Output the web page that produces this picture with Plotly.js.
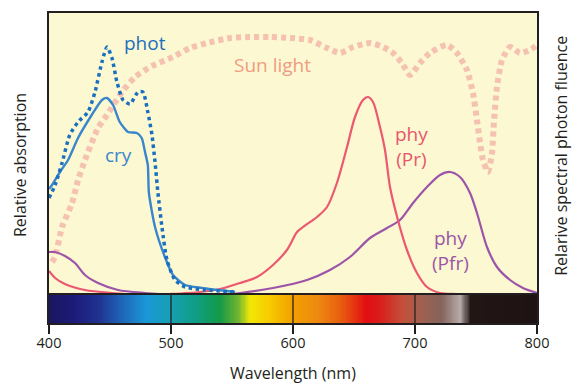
<!DOCTYPE html>
<html>
<head>
<meta charset="utf-8">
<script src="https://cdn.plot.ly/plotly-3.0.1.min.js"></script>
<style>html,body{margin:0;padding:0;background:#fff;}#chart{width:573px;height:383px;}</style>
</head>
<body>
<div id="chart"></div>
<script>
// Wavelength (nm) and relative values (arbitrary units, 0 = baseline)
const photNm  = [400,405,410.7,417,423.8,432,437.7,443.4,447.5,451.6,455.7,460.7,466.4,473,477,481,484.4,486.9,489.3,492.6,496.7,503.3,511.5,527.9,554];
const photVal = [97,110,132,160,173,183,203,233,248,237,213,195,191,203,203,183,160,133,102,68,35,15,8,5,3];

const cryNm  = [400,402.5,409,415.6,423.8,435,443.4,447.5,452.5,458,464.8,472,476,478.7,481,481.9,486.9,495,501.6,511.5,525.4,552.5];
const cryVal = [106,110,123,135,157,180,195,197,190,173,163,162,157,143,130,102,68,38,20,10,7,3];

const sunNm  = [402.5,404.9,410.7,418.9,423.8,429.5,440.2,447.5,459.8,470.5,484.4,501.6,515.6,529.5,548.4,564.8,581.1,597.5,613.9,627.9,638.5,649.2,663.1,673.8,682,689.3,695.9,704.1,712.3,726.2,734.4,742.6,747.5,750.8,753.3,755.7,759.8,763.1,764.8,767.2,771.3,777.9,786,794.3,800];
const sunVal = [33,38,68,92,115,135,167,180,203,218,229,238,247,252,257,258,258,257,255,247,242,248,252,248,242,232,220,232,242,250,242,225,202,175,152,135,123,142,175,208,235,248,242,245,250];

const prNm  = [400,405,413,429.5,451.6,478.7,499,523.8,540.2,556.6,570.5,583.6,595,603.3,608.2,619.7,627.9,636,644.3,650.8,657.4,661.5,665.6,671.3,675.4,679.5,686,693.4,701.6,709.8,720.5,734.4,760];
const prVal = [24,17,11,5,2,0,1,3,6,12,18,30,45,63,68,78,88,112,148,178,195,198,193,168,145,108,75,45,22,8,2,1,0];

const pfrNm  = [400,405,413.1,421.3,429.5,440.2,456.6,478.7,507.4,540,556.6,583.6,611.5,630.3,646.7,663.1,677,687.7,698.4,709.8,720.5,728.7,736.9,745.1,750.8,759,767.2,777.9,788.5,800];
const pfrVal = [43,43,39,32,20,12,5,2,0,0,2,7,15,25,38,57,67,75,92,108,120,123,118,102,82,48,28,15,7,2];

const tickVals = [400,500,600,700,800];

// visible-spectrum colour bar stops
const spectrumNm = [400,420,440,460,480,500,520,540,555,565,580,600,620,640,660,670,690,705,722,737,746,800];
const spectrumColors = ['#1b1660','#1c1a78','#20308f','#1f66b8','#1a98d8','#16a0b2','#0f9e86','#139a48','#70b430','#f2e806','#f8cc00','#f2a000','#ee8a10','#e85c10','#e20f12','#da1a18','#c4503a','#a06050','#84645c','#b5aaa7','#221515','#1e1212'];

const barNm = [];
for (let w = spectrumNm[0]; w <= spectrumNm[spectrumNm.length-1]; w += 1) barNm.push(w);
const lo = spectrumNm[0], hi = spectrumNm[spectrumNm.length-1];
const colorscale = spectrumNm.map((w,i)=>[(w-lo)/(hi-lo), spectrumColors[i]]);

const FONT = 'Open Sans, Noto Sans, sans-serif';
const INK = '#231f20';

const traces = [
  {x: barNm, y: [0], z: [barNm], type: 'heatmap', colorscale: colorscale, zmin: lo, zmax: hi,
   showscale: false, hoverinfo: 'skip', xaxis: 'x2', yaxis: 'y2'},
  {x: sunNm, y: sunVal, mode: 'lines', name: 'Sun light', line: {color: '#f5c2b1', width: 6, dash: '5px,4px', shape: 'spline', smoothing: 0.6}},
  {x: pfrNm, y: pfrVal, mode: 'lines', name: 'phy (Pfr)', line: {color: '#9c54a9', width: 2.2, shape: 'spline', smoothing: 0.8}},
  {x: prNm, y: prVal, mode: 'lines', name: 'phy (Pr)', line: {color: '#ec5870', width: 2.2, shape: 'spline', smoothing: 0.8}},
  {x: cryNm, y: cryVal, mode: 'lines', name: 'cry', line: {color: '#3a86cc', width: 2.4, shape: 'spline', smoothing: 0.6}},
  {x: photNm, y: photVal, mode: 'lines', name: 'phot', line: {color: '#1b6fbf', width: 3.5, dash: '3.5px,3.5px', shape: 'spline', smoothing: 0.6}}
];

const barFrac = 28/310;
const layout = {
  width: 573, height: 383,
  margin: {l: 49, r: 36, t: 13, b: 60, pad: 0},
  paper_bgcolor: '#ffffff',
  plot_bgcolor: '#fcf8d2',
  showlegend: false,
  font: {family: FONT, color: INK},
  xaxis: {domain: [0,1], anchor: 'y', range: [400,800], showticklabels: false, ticks: '',
          showgrid: false, zeroline: false, showline: true, mirror: true, linecolor: INK, linewidth: 2},
  yaxis: {domain: [barFrac, 1], anchor: 'x', range: [0, 282], showticklabels: false, ticks: '',
          showgrid: false, zeroline: false, showline: true, mirror: true, linecolor: INK, linewidth: 2},
  xaxis2: {domain: [0,1], anchor: 'y2', range: [400,800], tickvals: tickVals, ticktext: tickVals.map(String),
           ticks: 'outside', ticklen: 9, tickwidth: 1.5, tickcolor: INK, showgrid: false, zeroline: false,
           showline: true, mirror: true, linecolor: INK, linewidth: 2, layer: 'above traces',
           ticklabelstandoff: -3,
           tickfont: {family: FONT, size: 14.5, color: INK}},
  yaxis2: {domain: [0, barFrac], anchor: 'x2', range: [-0.5, 0.5], showticklabels: false, ticks: '',
           showgrid: false, zeroline: false, showline: true, mirror: true, linecolor: INK, linewidth: 2, layer: 'above traces'},
  shapes: tickVals.slice(1, -1).map(v => ({type: 'line', xref: 'x2', yref: 'y2 domain', x0: v, x1: v, y0: 0, y1: 1,
           line: {color: '#2a2020', width: 1.3}, layer: 'above'})),
  annotations: [
    {text: 'phot', xref: 'x', yref: 'y', x: 478.7, y: 252, showarrow: false, font: {size: 19, color: '#1b6fbf', family: FONT}},
    {text: 'cry', xref: 'x', yref: 'y', x: 456.6, y: 140, showarrow: false, font: {size: 19, color: '#3a86cc', family: FONT}},
    {text: 'Sun light', xref: 'x', yref: 'y', x: 582.8, y: 230, showarrow: false, font: {size: 19, color: '#f09c82', family: FONT}},
    {text: 'phy<br>(Pr)', xref: 'x', yref: 'y', x: 697.5, y: 149, showarrow: false, font: {size: 19, color: '#e8566c', family: FONT}},
    {text: 'phy<br>(Pfr)', xref: 'x', yref: 'y', x: 729.5, y: 45, showarrow: false, font: {size: 19, color: '#9a55a6', family: FONT}},
    {text: 'Wavelength (nm)', xref: 'paper', yref: 'paper', x: 0.5, y: -0.161, xanchor: 'center', yanchor: 'middle',
     showarrow: false, font: {size: 16, color: INK, family: FONT}},
    {text: 'Relative absorption', xref: 'paper', yref: 'paper', x: -0.0594, y: 0.5097, xanchor: 'center', yanchor: 'middle',
     textangle: -90, showarrow: false, font: {size: 16, color: INK, family: FONT}},
    {text: 'Relarive spectral photon fluence', xref: 'paper', yref: 'paper', x: 1.049, y: 0.539, xanchor: 'center', yanchor: 'middle',
     textangle: -90, showarrow: false, font: {size: 16, color: INK, family: FONT}}
  ]
};

Plotly.newPlot('chart', traces, layout, {staticPlot: true, displayModeBar: false});
</script>
</body>
</html>
